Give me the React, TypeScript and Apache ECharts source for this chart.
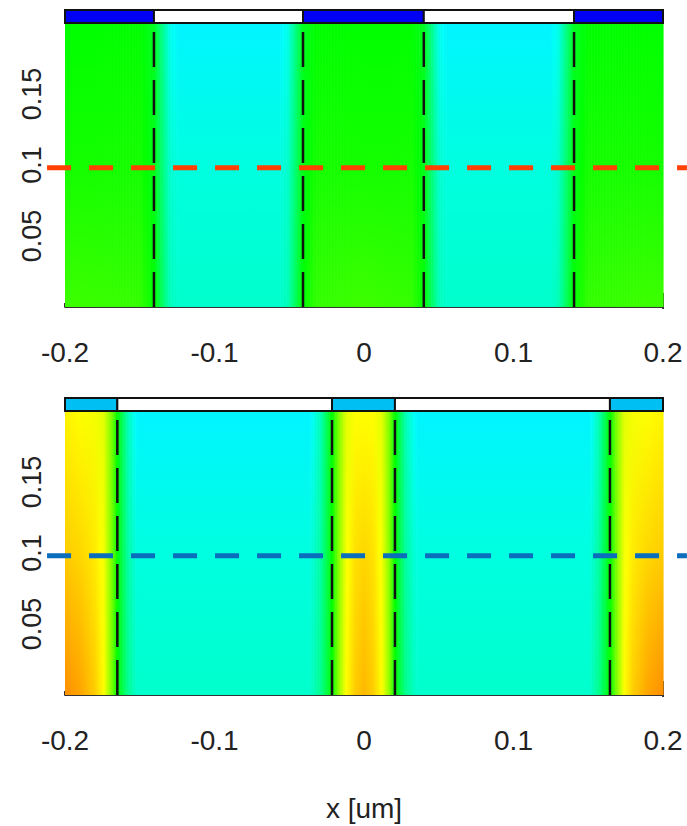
import React, { useEffect, useRef } from "react";
import * as echarts from "echarts";

// ---------- axes ----------
const X_RANGE = [-0.2, 0.2];
const X_STEP = 0.1;
const Y_RANGE = [0, 0.2];
const Y_STEP = 0.05;
const X_TITLE = "x [um]";

// colour scale for field values 0..1
const PALETTE = ["#0000ff", "#00ffff", "#00ff00", "#ffff00", "#ff0000"];

// ---------- top panel ----------
// cap bar segments: [x0, x1, filled]
const TOP_CAP = [
  [-0.2, -0.1405, 1],
  [-0.1405, -0.0408, 0],
  [-0.0408, 0.04, 1],
  [0.04, 0.1405, 0],
  [0.1405, 0.2, 1],
];
const TOP_EDGES = [-0.1405, -0.0408, 0.04, 0.1405];
// dashed cut line: [x start, x end, y]
const TOP_CUT = [[-0.212, 0.216, 0.098]];
// field samples along x: [x, value top, value middle, value bottom]
const TOP_FIELD = [
  [-0.2, 0.5, 0.52, 0.56],
  [-0.15, 0.5, 0.52, 0.55],
  [-0.1405, 0.47, 0.48, 0.5],
  [-0.13, 0.27, 0.3, 0.32],
  [-0.125, 0.24, 0.28, 0.3],
  [-0.056, 0.24, 0.28, 0.3],
  [-0.051, 0.27, 0.3, 0.32],
  [-0.0408, 0.47, 0.48, 0.5],
  [-0.032, 0.5, 0.52, 0.55],
  [0, 0.5, 0.52, 0.56],
  [0.032, 0.5, 0.52, 0.55],
  [0.04, 0.47, 0.48, 0.5],
  [0.05, 0.27, 0.3, 0.32],
  [0.055, 0.24, 0.28, 0.3],
  [0.125, 0.24, 0.28, 0.3],
  [0.13, 0.27, 0.3, 0.32],
  [0.1405, 0.47, 0.48, 0.5],
  [0.15, 0.5, 0.52, 0.55],
  [0.2, 0.5, 0.52, 0.56],
];

// ---------- bottom panel ----------
const BOT_CAP = [
  [-0.2, -0.165, 1],
  [-0.165, -0.0214, 0],
  [-0.0214, 0.0207, 1],
  [0.0207, 0.1645, 0],
  [0.1645, 0.2, 1],
];
const BOT_EDGES = [-0.165, -0.0214, 0.0207, 0.1645];
const BOT_CUT = [[-0.212, 0.216, 0.098]];
const BOT_FIELD = [
  [-0.2, 0.76, 0.8, 0.86],
  [-0.19, 0.75, 0.79, 0.84],
  [-0.18, 0.74, 0.77, 0.8],
  [-0.174, 0.72, 0.74, 0.75],
  [-0.168, 0.6, 0.6, 0.6],
  [-0.165, 0.5, 0.5, 0.5],
  [-0.158, 0.32, 0.34, 0.36],
  [-0.152, 0.24, 0.28, 0.3],
  [-0.036, 0.24, 0.28, 0.3],
  [-0.029, 0.32, 0.34, 0.36],
  [-0.0214, 0.5, 0.5, 0.5],
  [-0.017, 0.62, 0.63, 0.64],
  [-0.012, 0.72, 0.74, 0.75],
  [-0.006, 0.75, 0.78, 0.8],
  [0, 0.75, 0.79, 0.82],
  [0.006, 0.75, 0.78, 0.8],
  [0.012, 0.72, 0.74, 0.75],
  [0.017, 0.62, 0.63, 0.64],
  [0.0207, 0.5, 0.5, 0.5],
  [0.028, 0.32, 0.34, 0.36],
  [0.035, 0.24, 0.28, 0.3],
  [0.151, 0.24, 0.28, 0.3],
  [0.157, 0.32, 0.34, 0.36],
  [0.1645, 0.5, 0.5, 0.5],
  [0.168, 0.6, 0.6, 0.6],
  [0.174, 0.72, 0.74, 0.75],
  [0.18, 0.74, 0.77, 0.8],
  [0.19, 0.75, 0.79, 0.84],
  [0.2, 0.76, 0.8, 0.86],
];

// ---------- styling ----------
const FONT = "'Liberation Sans', Arial, sans-serif";
const TEXT = "#222";
const AXIS = "#333";
const CAP_H = 13;

const cmap = (v: number) => echarts.color.lerp(Math.max(0, Math.min(1, v)), PALETTE) as string;

const vGrad = (v: number[]) => ({
  type: "linear",
  x: 0,
  y: 0,
  x2: 0,
  y2: 1,
  colorStops: [
    { offset: 0, color: cmap(v[0]) },
    { offset: 0.5, color: cmap(v[1]) },
    { offset: 1, color: cmap(v[2]) },
  ],
});

// consecutive samples -> cells [x0, x1, l_top, l_mid, l_bot, r_top, r_mid, r_bot]
const toCells = (s: number[][]) =>
  s.slice(0, -1).map((a, i) => [a[0], s[i + 1][0], a[1], a[2], a[3], s[i + 1][1], s[i + 1][2], s[i + 1][3]]);

const heatRender = (_p: any, api: any) => {
  const L = [api.value(2), api.value(3), api.value(4)];
  const R = [api.value(5), api.value(6), api.value(7)];
  const a = api.coord([api.value(0), Y_RANGE[1]]);
  const b = api.coord([api.value(1), Y_RANGE[0]]);
  const w = b[0] - a[0];
  const same = L.every((v, k) => v === R[k]);
  const n = same ? 1 : Math.max(1, Math.round(w / 1.5));
  const children: any[] = [];
  for (let k = 0; k < n; k++) {
    const t = n === 1 ? 0 : (k + 0.5) / n;
    const v = L.map((lv, j) => lv + (R[j] - lv) * t);
    children.push({
      type: "rect",
      shape: { x: a[0] + (w * k) / n, y: a[1], width: w / n + 0.6, height: b[1] - a[1] },
      style: { fill: vGrad(v) },
    });
  }
  return { type: "group", children };
};

const capRender = (fill: string) => (_p: any, api: any) => {
  const a = api.coord([api.value(0), Y_RANGE[1]]);
  const b = api.coord([api.value(1), Y_RANGE[1]]);
  return {
    type: "rect",
    shape: { x: a[0], y: a[1] - CAP_H, width: b[0] - a[0], height: CAP_H },
    style: { fill: api.value(2) ? fill : "#ffffff", stroke: "#111", lineWidth: 2 },
  };
};

const cutRender = (color: string) => (_p: any, api: any) => {
  const p0 = api.coord([api.value(0), api.value(2)]);
  const p1 = api.coord([api.value(1), api.value(2)]);
  return {
    type: "line",
    shape: { x1: p0[0], y1: p0[1], x2: p1[0], y2: p1[1] },
    style: { stroke: color, lineWidth: 5, lineDash: [24, 18] },
  };
};

function panelSeries(
  i: number,
  field: number[][],
  cap: number[][],
  capColor: string,
  edges: number[],
  cut: number[][],
  cutColor: string
) {
  const s: any[] = [
    {
      type: "custom",
      xAxisIndex: i,
      yAxisIndex: i,
      data: toCells(field),
      renderItem: heatRender,
      silent: true,
      z: 1,
    },
    {
      type: "custom",
      xAxisIndex: i,
      yAxisIndex: i,
      data: cap,
      renderItem: capRender(capColor),
      silent: true,
      z: 2,
    },
  ];
  edges.forEach((x) => {
    s.push({
      type: "line",
      xAxisIndex: i,
      yAxisIndex: i,
      data: [
        [x, Y_RANGE[0]],
        [x, Y_RANGE[1]],
      ],
      symbol: "none",
      silent: true,
      clip: false,
      z: 3,
      lineStyle: { color: "#111", width: 2.5, type: [35, 13] },
    });
  });
  s.push({
    type: "custom",
    xAxisIndex: i,
    yAxisIndex: i,
    data: cut,
    renderItem: cutRender(cutColor),
    silent: true,
    clip: false,
    z: 4,
  });
  return s;
}

const grids = [
  { left: 65, top: 23, width: 598, height: 284 },
  { left: 65, top: 411, width: 598, height: 284 },
];

const xAxes = grids.map((_, i) => ({
  gridIndex: i,
  type: "value",
  min: X_RANGE[0],
  max: X_RANGE[1],
  interval: X_STEP,
  offset: 2,
  axisLine: { show: true, lineStyle: { color: AXIS, width: 2 } },
  axisTick: { show: true, inside: true, length: 4, lineStyle: { color: AXIS, width: 2 } },
  axisLabel: { fontSize: 28, fontFamily: FONT, color: TEXT, margin: 29 },
  splitLine: { show: false },
  name: i === 1 ? X_TITLE : "",
  nameLocation: "middle",
  nameGap: 97,
  nameTextStyle: { fontSize: 28, fontFamily: FONT, color: TEXT },
}));

const yAxes = grids.map((_, i) => ({
  gridIndex: i,
  type: "value",
  min: Y_RANGE[0],
  max: Y_RANGE[1],
  interval: Y_STEP,
  axisLine: { show: false },
  axisTick: { show: false },
  splitLine: { show: false },
  axisLabel: {
    rotate: 90,
    fontSize: 27,
    fontFamily: FONT,
    color: TEXT,
    margin: 20,
    showMinLabel: false,
    showMaxLabel: false,
  },
}));

const option: any = {
  animation: false,
  backgroundColor: "#ffffff",
  grid: grids,
  xAxis: xAxes,
  yAxis: yAxes,
  graphic: [
    { type: "line", shape: { x1: 663, y1: 293, x2: 663, y2: 309 }, style: { stroke: AXIS, lineWidth: 2 } },
    { type: "line", shape: { x1: 663, y1: 681, x2: 663, y2: 697 }, style: { stroke: AXIS, lineWidth: 2 } },
  ],
  series: [
    ...panelSeries(0, TOP_FIELD, TOP_CAP, "#0000f5", TOP_EDGES, TOP_CUT, "#ff4000"),
    ...panelSeries(1, BOT_FIELD, BOT_CAP, "#00bff3", BOT_EDGES, BOT_CUT, "#0a6ebd"),
  ],
};

export default function App() {
  const ref = useRef<HTMLDivElement>(null);
  useEffect(() => {
    document.body.style.margin = "0";
    const chart = echarts.init(ref.current!, null, { renderer: "svg" });
    chart.setOption(option);
    return () => chart.dispose();
  }, []);
  return <div ref={ref} style={{ width: 687, height: 826 }} />;
}
